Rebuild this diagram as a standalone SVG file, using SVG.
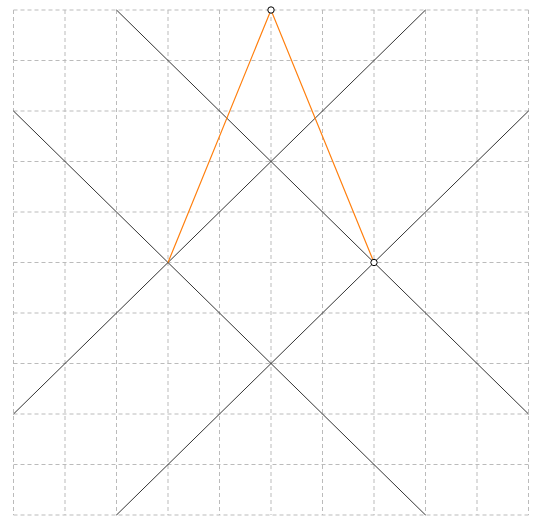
<svg xmlns="http://www.w3.org/2000/svg" width="544" height="526" viewBox="0 0 544 526">
<style>
.grid line{stroke:#bbb;stroke-width:1;stroke-dasharray:4,3;fill:none}
.ln{stroke:#333;stroke-width:1;fill:none}
.or{stroke:#ff7f0e;stroke-width:1.2;fill:none}
.pt{fill:#fff;stroke:#000;stroke-width:1}
</style>
<rect width="544" height="526" fill="#fff"/>
<g class="grid" id="grid">
<line x1="13.5" y1="10" x2="13.5" y2="515"/>
<line x1="65" y1="10" x2="65" y2="515"/>
<line x1="116.5" y1="10" x2="116.5" y2="515"/>
<line x1="168" y1="10" x2="168" y2="515"/>
<line x1="219.5" y1="10" x2="219.5" y2="515"/>
<line x1="271" y1="10" x2="271" y2="515"/>
<line x1="322.5" y1="10" x2="322.5" y2="515"/>
<line x1="374" y1="10" x2="374" y2="515"/>
<line x1="425.5" y1="10" x2="425.5" y2="515"/>
<line x1="477" y1="10" x2="477" y2="515"/>
<line x1="528.5" y1="10" x2="528.5" y2="515"/>
<line x1="13.5" y1="10" x2="528.5" y2="10"/>
<line x1="13.5" y1="60.5" x2="528.5" y2="60.5"/>
<line x1="13.5" y1="111" x2="528.5" y2="111"/>
<line x1="13.5" y1="161.5" x2="528.5" y2="161.5"/>
<line x1="13.5" y1="212" x2="528.5" y2="212"/>
<line x1="13.5" y1="262.5" x2="528.5" y2="262.5"/>
<line x1="13.5" y1="313" x2="528.5" y2="313"/>
<line x1="13.5" y1="363.5" x2="528.5" y2="363.5"/>
<line x1="13.5" y1="414" x2="528.5" y2="414"/>
<line x1="13.5" y1="464.5" x2="528.5" y2="464.5"/>
<line x1="13.5" y1="515" x2="528.5" y2="515"/>
</g>
<g id="connectors">
<line class="ln" x1="116.5" y1="10" x2="528.5" y2="414"/>
<line class="ln" x1="13.5" y1="111" x2="425.5" y2="515"/>
<line class="ln" x1="425.5" y1="10" x2="13.5" y2="414"/>
<line class="ln" x1="528.5" y1="111" x2="116.5" y2="515"/>
<polyline class="or" points="168,262.5 271,10 374,262.5"/>
</g>
<g id="p1"><circle class="pt" cx="271" cy="10" r="3.2"/></g>
<g id="p2"><circle class="pt" cx="374" cy="262.5" r="3.2"/></g>
</svg>
